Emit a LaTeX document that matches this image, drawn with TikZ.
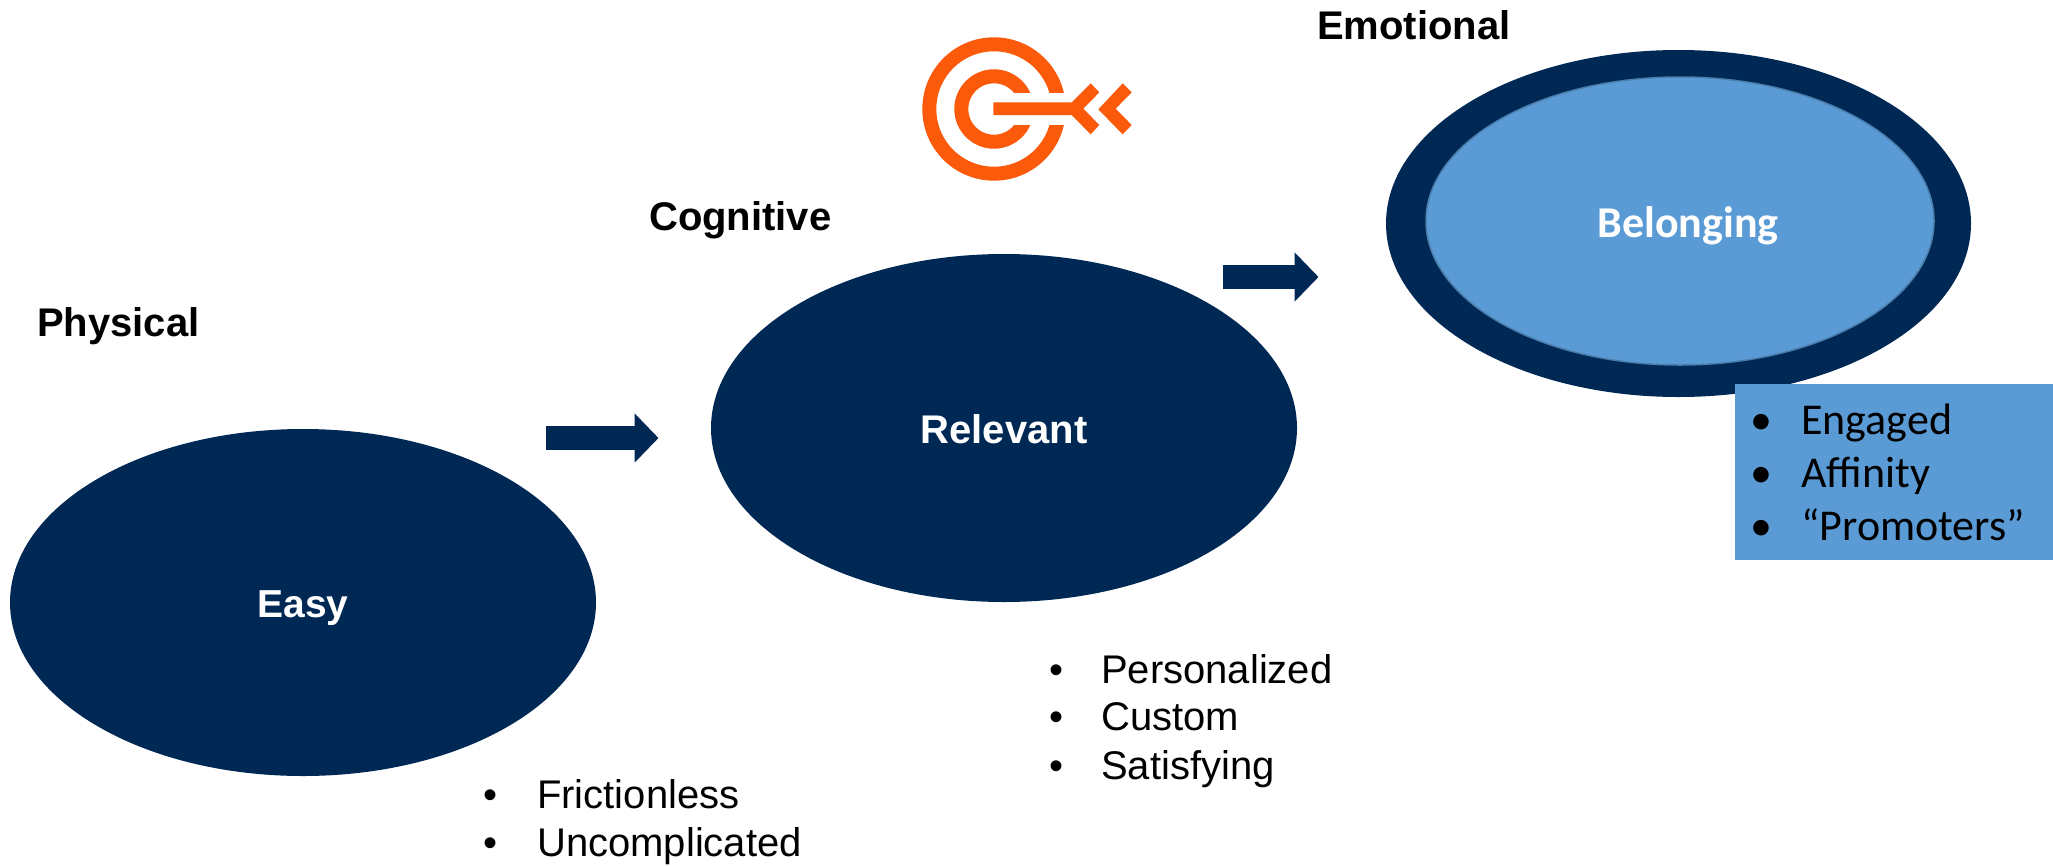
\documentclass[tikz,border=0pt]{standalone}
\usepackage{fontspec}
\usetikzlibrary{arrows.meta}
\setmainfont{Liberation Sans}
\newfontfamily\carl{Carlito}
\definecolor{navy}{HTML}{002855}
\definecolor{sky}{HTML}{5B9BD5}
\definecolor{skyline}{HTML}{4A7EAD}
\definecolor{target}{HTML}{FA5A0A}
\tikzset{
  x=1pt,y=-1pt,
  oval/.style={fill=navy,draw=none},
  head/.style={anchor=base west,font=\fontsize{40}{40}\selectfont\bfseries,text=black,inner sep=0},
  inoval/.style={anchor=base,font=\fontsize{40}{40}\selectfont\bfseries,text=white,inner sep=0},
  bul/.style={anchor=base west,font=\fontsize{40}{40}\selectfont,text=black,inner sep=0},
  cbul/.style={anchor=base west,font=\fontsize{44}{44}\selectfont\carl,text=black,inner sep=0},
  flow/.style={navy,line width=23.5pt,-{Triangle[length=24pt,width=48pt]}},
  tgt/.style={target,line width=14pt},
  tgtfill/.style={fill=target,draw=none},
}
\begin{document}
\begin{tikzpicture}
\useasboundingbox (0,0) rectangle (2053,865);
\fill[white] (0,0) rectangle (2053,865);
% ovals
\fill[oval] (303,602.5) ellipse [x radius=293,y radius=173.5];
\fill[oval] (1004,428) ellipse [x radius=293,y radius=174];
\fill[oval] (1678.5,223.5) ellipse [x radius=292.5,y radius=173.5];
\filldraw[fill=sky,draw=skyline,line width=1.5pt] (1680,221) ellipse [x radius=254,y radius=144];
% text in ovals
\node[inoval,font=\fontsize{39}{39}\selectfont\bfseries] (easy) at (303,617) {Easy};
\node[inoval] (relevant) at (1004,443) {Relevant};
\node[inoval,font=\fontsize{44}{44}\selectfont\bfseries\carl] (belonging) at (1688,237) {Belonging};
% heads
\node[head] (physical) at (37,336) {Physical};
\node[head] (cognitive) at (649,230) {Cognitive};
\node[head] (emotional) at (1317,39.5) {Emotional};
% arrows
\coordinate (a1s) at (546,438);
\coordinate (a1e) at (658.5,438);
\coordinate (a2s) at (1222.5,277);
\coordinate (a2e) at (1318.5,277);
\draw[flow] (a1s) -- (a1e);
\draw[flow] (a2s) -- (a2e);
% lists
\node[bul] (b1a) at (483,808) {•};
\node[bul] (b1) at (537,808) {Frictionless};
\node[bul] (b2a) at (483,856) {•};
\node[bul] (b2) at (537,856) {Uncomplicated};
\node[bul] (c1a) at (1049,683) {•};
\node[bul] (c1) at (1101,683) {Personalized};
\node[bul] (c2a) at (1049,730) {•};
\node[bul] (c2) at (1101,730) {Custom};
\node[bul] (c3a) at (1049,779) {•};
\node[bul] (c3) at (1101,779) {Satisfying};
% blue box
\fill[sky] (1735,384) rectangle (2053,560);
\node[cbul] (d1a) at (1750,434) {•};
\node[cbul] (d1) at (1801,434) {Engaged};
\node[cbul] (d2a) at (1750,487) {•};
\node[cbul] (d2) at (1801,487) {Affinity};
\node[cbul] (d3a) at (1750,540) {•};
\node[cbul] (d3) at (1801,540) {“Promoters”};
% target
\draw[tgt] (994,109) circle [radius=64.7];
\draw[tgt] (994,109) circle [radius=32.7];
\fill[white] (1005,92.7) rectangle (1075,125.3);
\begin{scope}[shift={(880,40)},scale=1/3]
\fill[tgtfill] (340,187) -- (575,187) -- (632,130) -- (658,157) -- (610,206) -- (658,255) -- (632,283) -- (575,225) -- (340,225) -- cycle;
\fill[tgtfill] (728,130) -- (755,157) -- (707,206) -- (755,255) -- (728,283) -- (655,208) -- cycle;
\end{scope}
\end{tikzpicture}
\end{document}
